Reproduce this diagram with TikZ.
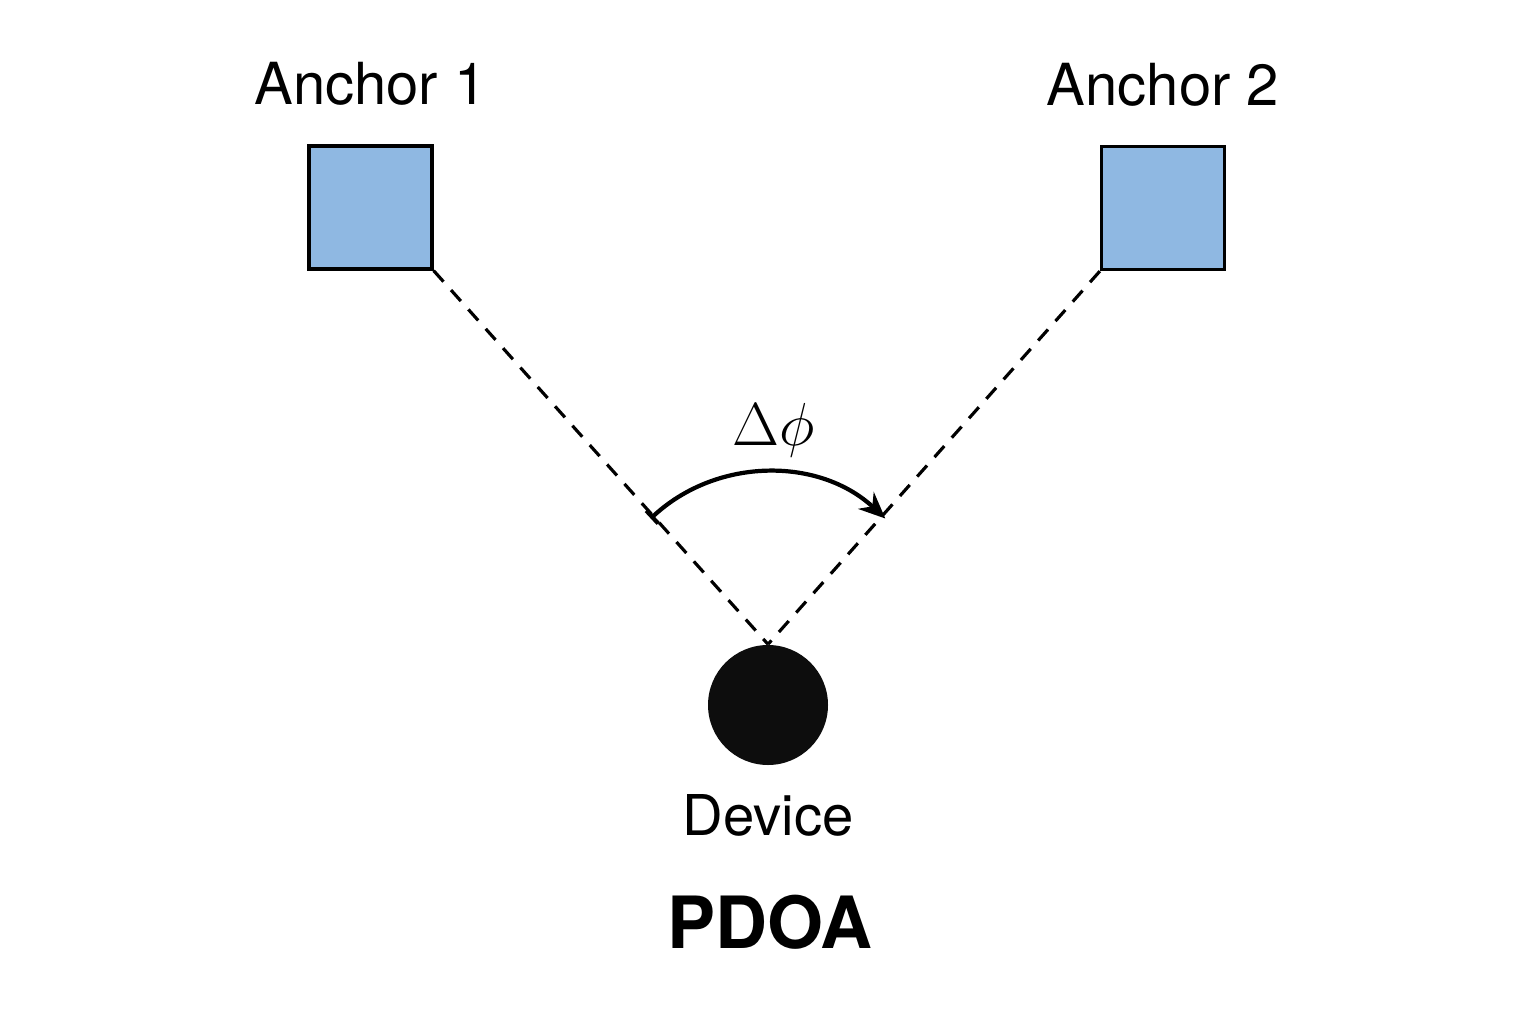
\documentclass[tikz,border=0pt]{standalone}
\usepackage{fontspec}
\setmainfont{TeX Gyre Heros}
\usepackage{amssymb}
\usetikzlibrary{calc,positioning,arrows.meta}
\definecolor{anchorblue}{HTML}{8FB8E2}
\tikzset{
anchorbox/.style={draw, line width=0.95pt, fill=anchorblue, minimum size=1.23cm, inner sep=0pt}, % the two anchors
devicedot/.style={circle, fill=black!95, minimum size=1.2cm, inner sep=0pt}, % the device
ray/.style={dashed, dash pattern=on 4.2pt off 3.2pt, line width=0.9pt}, % dashed lines of sight
labeltext/.style={inner sep=0pt, font=\fontsize{16.5}{19}\selectfont},
}

\begin{document}
\begin{tikzpicture}
   \useasboundingbox (0,0) rectangle (15.36,10.24);
   \node[anchorbox] (a_1) at (3.705,8.165) {};
   \node[anchorbox] (a_2) at (11.63,8.16) {};
   \node[devicedot] (dev) at (7.68,3.19) {};
   \node[labeltext, anchor=south] (a_1_lbl) [above=0.38cm of a_1] {Anchor 1};
   \node[labeltext, anchor=south] (a_2_lbl) [above=0.38cm of a_2] {Anchor 2};
   \node[labeltext, font=\fontsize{16}{19}\selectfont] (dev_lbl) [below=0.28cm of dev] {Device};
   \node[inner sep=0pt, font=\bfseries\fontsize{20.5}{24}\selectfont] (title) at (7.70,1.02) {PDOA};
   \coordinate (meet) at (dev.north);
   \draw[ray] (a_1.south east) -- (meet);
   \draw[ray] (a_2.south west) -- (meet);
   % phase difference arc
   \draw[line width=1.2pt, {Bar[width=5pt]}-{Stealth[length=7.5pt,width=6.5pt]}]
     ($(meet)+(133:1.72)$) arc[start angle=133, end angle=47, radius=1.72];
   \node[font=\fontsize{17}{20}\selectfont] (dphi) at (7.74,5.94) {$\Delta\phi$};
\end{tikzpicture}
\end{document}
